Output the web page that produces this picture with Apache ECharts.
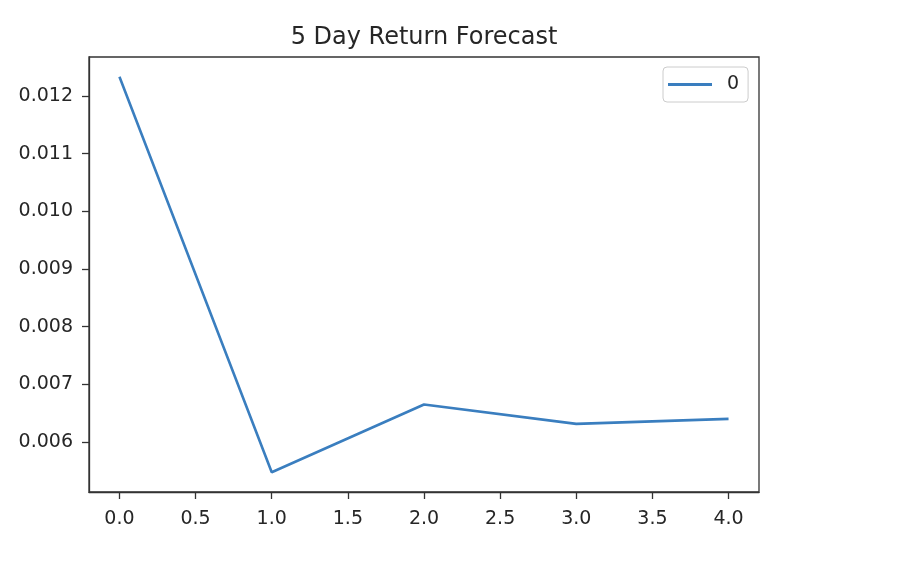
<!DOCTYPE html>
<html>
<head>
<meta charset="utf-8">
<script src="https://cdn.jsdelivr.net/npm/echarts@6/dist/echarts.min.js"></script>
<style>html,body{margin:0;padding:0;background:#fff;}#c{width:918px;height:566px;}</style>
</head>
<body>
<div id="c"></div>
<script>
const titleText = '5 Day Return Forecast';
const seriesName = '0';
const xValues = [0, 1, 2, 3, 4];
const yValues = [0.012335, 0.005474, 0.006649, 0.006313, 0.006399];
const xTicks = [0.0, 0.5, 1.0, 1.5, 2.0, 2.5, 3.0, 3.5, 4.0];
const yTicks = [0.006, 0.007, 0.008, 0.009, 0.010, 0.011, 0.012];

const ymin0 = Math.min(...yValues), ymax0 = Math.max(...yValues);
const yspan = ymax0 - ymin0;
const xspan = Math.max(...xValues) - Math.min(...xValues);

const chart = echarts.init(document.getElementById('c'), null, {renderer: 'canvas'});
const font = 'DejaVu Sans';
const ink = '#262626';
const spine = '#333333';
chart.setOption({
  animation: false,
  backgroundColor: '#ffffff',
  title: {
    text: titleText,
    left: 424, top: 26, padding: 0, textAlign: 'center',
    textStyle: {fontFamily: font, fontSize: 24, fontWeight: 'normal', color: ink}
  },
  legend: {
    data: [seriesName],
    left: 663, top: 67,
    icon: 'rect', itemWidth: 44, itemHeight: 3,
    borderColor: '#cccccc', borderWidth: 1, borderRadius: 4,
    padding: [8, 9, 8, 5],
    backgroundColor: '#ffffff',
    textStyle: {fontFamily: font, fontSize: 19, color: ink, padding: [0, 0, 0, 10]}
  },
  grid: {
    left: 89, right: 159, top: 57, bottom: 74,
    show: true, borderColor: spine, borderWidth: 1.3, backgroundColor: 'transparent'
  },
  xAxis: {
    type: 'value',
    min: Math.min(...xValues) - 0.05 * xspan,
    max: Math.max(...xValues) + 0.05 * xspan,
    splitLine: {show: false},
    axisLine: {show: true, onZero: false, lineStyle: {color: spine, width: 1.3}},
    axisTick: {show: true, length: 7, lineStyle: {color: spine, width: 1.3}, customValues: xTicks},
    axisLabel: {
      customValues: xTicks, margin: 18,
      fontFamily: font, fontSize: 19, color: ink,
      formatter: v => v.toFixed(1)
    }
  },
  yAxis: {
    type: 'value',
    min: ymin0 - 0.05 * yspan,
    max: ymax0 + 0.05 * yspan,
    splitLine: {show: false},
    axisLine: {show: true, onZero: false, lineStyle: {color: spine, width: 1.3}},
    axisTick: {show: true, length: 7, lineStyle: {color: spine, width: 1.3}, customValues: yTicks},
    axisLabel: {
      customValues: yTicks, margin: 16,
      fontFamily: font, fontSize: 19, color: ink,
      formatter: v => v.toFixed(3)
    }
  },
  series: [{
    name: seriesName,
    type: 'line',
    data: xValues.map((x, i) => [x, yValues[i]]),
    symbol: 'none',
    showSymbol: false,
    color: '#3a7ebf',
    lineStyle: {color: '#3a7ebf', width: 2.6}
  }]
});
</script>
</body>
</html>
